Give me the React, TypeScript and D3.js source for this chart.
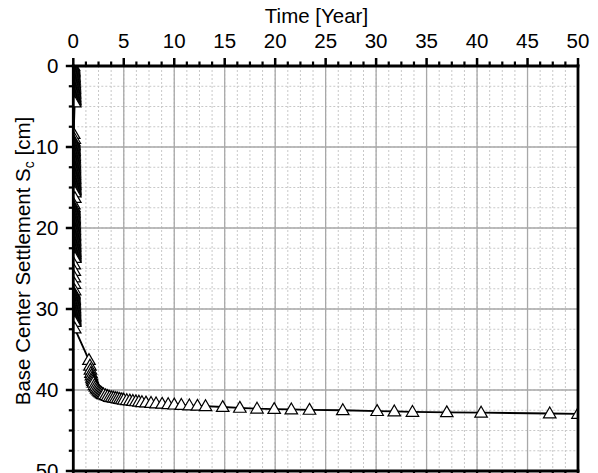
import React from "react";
import * as d3 from "d3";

const xTicks = [0, 5, 10, 15, 20, 25, 30, 35, 40, 45, 50];
const yTicks = [0, 10, 20, 30, 40, 50];

// Time [year]
const timeYears = [
  // construction stage 1
  0.02, 0.02, 0.03, 0.03, 0.04, 0.04, 0.05, 0.05, 0.06, 0.06, 0.07, 0.07, 0.08, 0.08, 0.09, 0.09,
  0.1, 0.1, 0.1, 0.11, 0.11, 0.11, 0.12, 0.12, 0.12, 0.13, 0.13, 0.13, 0.14, 0.14, 0.14,
  0.04, 0.1,
  // stage 2
  0.05, 0.05, 0.05, 0.06, 0.06, 0.06, 0.06, 0.07, 0.07, 0.07, 0.07, 0.08, 0.08, 0.08, 0.08,
  0.09, 0.09, 0.09, 0.09, 0.1, 0.1, 0.1, 0.1, 0.11, 0.11, 0.11, 0.11, 0.12, 0.12, 0.12, 0.12,
  0.13, 0.13, 0.13, 0.13, 0.14, 0.14, 0.14, 0.14, 0.15, 0.15, 0.15, 0.15,
  0.15, 0.06,
  // stage 3
  0.05, 0.05, 0.05, 0.06, 0.06, 0.06, 0.06, 0.07, 0.07, 0.07, 0.07, 0.08, 0.08, 0.08, 0.08,
  0.09, 0.09, 0.09, 0.09, 0.1, 0.1, 0.1, 0.1, 0.11, 0.11, 0.11, 0.11, 0.12, 0.12, 0.12, 0.12,
  0.13, 0.13, 0.13, 0.13, 0.14, 0.14, 0.14, 0.14, 0.15, 0.15, 0.15, 0.15,
  0.09, 0.1, 0.11, 0.12, 0.13,
  // stage 4
  0.05, 0.05, 0.06, 0.06, 0.07, 0.07, 0.08, 0.08, 0.09, 0.09, 0.1, 0.1, 0.1, 0.11, 0.11, 0.11,
  0.12, 0.12, 0.12, 0.13, 0.13, 0.13, 0.14, 0.14, 0.14,
  0.14,
  // consolidation
  1.55, 1.65, 1.7, 1.75, 1.8, 1.85, 1.9, 1.95, 2.0, 2.1, 2.2, 2.3, 2.4, 2.5, 2.6, 2.7, 2.8, 2.9,
  3.0, 3.2, 3.4, 3.6, 3.8, 4.0, 4.2, 4.4, 4.6, 4.8, 5.0, 5.3, 5.6, 5.9, 6.2, 6.5, 6.8, 7.2,
  7.7, 8.2, 8.8, 9.4, 10.0, 10.7, 11.5, 12.3, 13.1, 14.8, 16.5, 18.2, 19.9, 21.6, 23.4, 26.7,
  30.1, 31.8, 33.6, 37.0, 40.4, 47.2, 50.0,
];

// Base center settlement Sc [cm]
const settlementCm = [
  0, 0.15, 0.3, 0.45, 0.6, 0.75, 0.9, 1.05, 1.2, 1.35, 1.5, 1.65, 1.8, 1.95, 2.1, 2.25,
  2.4, 2.55, 2.7, 2.85, 3.0, 3.15, 3.3, 3.45, 3.6, 3.75, 3.9, 4.05, 4.2, 4.35, 4.5,
  8.4, 9.0,
  9.3, 9.45, 9.6, 9.75, 9.9, 10.05, 10.2, 10.35, 10.5, 10.65, 10.8, 10.95, 11.1, 11.25, 11.4,
  11.55, 11.7, 11.85, 12.0, 12.15, 12.3, 12.45, 12.6, 12.75, 12.9, 13.05, 13.2, 13.35, 13.5, 13.65,
  13.8, 13.95, 14.1, 14.25, 14.4, 14.55, 14.7, 14.85, 15.0, 15.15, 15.3, 15.45, 15.6,
  16.3, 17.1,
  17.4, 17.55, 17.7, 17.85, 18.0, 18.15, 18.3, 18.45, 18.6, 18.75, 18.9, 19.05, 19.2, 19.35, 19.5,
  19.65, 19.8, 19.95, 20.1, 20.25, 20.4, 20.55, 20.7, 20.85, 21.0, 21.15, 21.3, 21.45, 21.6, 21.75,
  21.9, 22.05, 22.2, 22.35, 22.5, 22.65, 22.8, 22.95, 23.1, 23.25, 23.4, 23.55, 23.7,
  24.5, 25.3, 26.1, 26.9, 27.7,
  28.0, 28.15, 28.3, 28.45, 28.6, 28.75, 28.9, 29.05, 29.2, 29.35, 29.5, 29.65, 29.8, 29.95, 30.1, 30.25,
  30.4, 30.55, 30.7, 30.85, 31.0, 31.15, 31.3, 31.45, 31.6,
  32.4,
  36.3, 37.0, 37.5, 37.9, 38.2, 38.5, 38.7, 38.9, 39.1, 39.4, 39.6, 39.8, 39.95, 40.1, 40.2, 40.3, 40.4, 40.5,
  40.55, 40.65, 40.75, 40.85, 40.9, 40.95, 41.0, 41.05, 41.1, 41.15, 41.2, 41.25, 41.3, 41.35, 41.4, 41.45, 41.5, 41.55,
  41.6, 41.65, 41.7, 41.75, 41.8, 41.85, 41.9, 41.95, 42.0, 42.1, 42.2, 42.3, 42.35, 42.4, 42.45, 42.5,
  42.6, 42.65, 42.7, 42.75, 42.8, 42.9, 42.95,
];

const W = 598;
const H = 473;
const L = 73.3;
const R = 578;
const T = 66;
const B = 471;
const FONT = "'Liberation Sans', Arial, sans-serif";

export default function App() {
  const x = d3.scaleLinear().domain([0, 50]).range([L, R]);
  const y = d3.scaleLinear().domain([0, 50]).range([T, B]);

  const xMinor = d3.range(0, 50.001, 1.25);
  const yMinor = d3.range(0, 50.001, 2.5);

  const n = Math.min(timeYears.length, settlementCm.length);
  const pts = timeYears.slice(0, n).map((t, i) => [t, settlementCm[i]] as [number, number]);
  const line = d3
    .line<[number, number]>()
    .x((d) => x(d[0]))
    .y((d) => y(d[1]));

  const tri = d3.symbol().type(d3.symbolTriangle).size(68)();

  return (
    <svg
      width={W}
      height={H}
      style={{ position: "fixed", left: 0, top: 0, background: "#fff" }}
      fontFamily={FONT}
    >
      <defs>
        <clipPath id="plot">
          <rect x={L} y={T} width={R - L} height={B - T} />
        </clipPath>
      </defs>
      <rect x={0} y={0} width={W} height={H} fill="#fff" />
      {/* minor grid */}
      {xMinor.map((v, i) => (
        <line key={"xm" + i} x1={x(v)} x2={x(v)} y1={T} y2={B} stroke="#c8c8c8" strokeWidth={1} strokeDasharray="2,2" />
      ))}
      {yMinor.map((v, i) => (
        <line key={"ym" + i} x1={L} x2={R} y1={y(v)} y2={y(v)} stroke="#c8c8c8" strokeWidth={1} strokeDasharray="2,2" />
      ))}
      {/* major grid */}
      {xTicks.map((v) => (
        <line key={"xg" + v} x1={x(v)} x2={x(v)} y1={T} y2={B} stroke="#a8a8a8" strokeWidth={1.3} />
      ))}
      {yTicks.map((v) => (
        <line key={"yg" + v} x1={L} x2={R} y1={y(v)} y2={y(v)} stroke="#a8a8a8" strokeWidth={1.3} />
      ))}
      {/* data */}
      <g clipPath="url(#plot)">
        <path d={line(pts) || ""} fill="none" stroke="#000" strokeWidth={1.8} />
        {pts.map((d, i) => (
          <path
            key={i}
            d={tri || ""}
            transform={`translate(${x(d[0])},${y(d[1]) + 0.8})`}
            fill="#fff"
            stroke="#000"
            strokeWidth={1.2}
          />
        ))}
      </g>
      {/* frame */}
      <line x1={L} x2={L} y1={T - 1.5} y2={B + 1.5} stroke="#000" strokeWidth={2.8} />
      <line x1={R} x2={R} y1={T - 1.5} y2={B + 1.5} stroke="#000" strokeWidth={2.8} />
      <line x1={L - 1.4} x2={R + 1.4} y1={T} y2={T} stroke="#000" strokeWidth={2.8} />
      <line x1={L - 1.4} x2={R + 1.4} y1={B} y2={B} stroke="#000" strokeWidth={2.8} />
      {/* top ticks */}
      {xMinor.map((v, i) => {
        const major = i % 4 === 0;
        return (
          <line key={"xt" + i} x1={x(v)} x2={x(v)} y1={T} y2={T - (major ? 8 : 4.5)} stroke="#000" strokeWidth={major ? 2.5 : 2.2} />
        );
      })}
      {/* left ticks */}
      {yMinor.map((v, i) => {
        const major = i % 4 === 0;
        return (
          <line key={"yt" + i} x1={L} x2={L - (major ? 7.5 : 4.5)} y1={y(v)} y2={y(v)} stroke="#000" strokeWidth={major ? 2.5 : 2.2} />
        );
      })}
      {/* bottom ticks */}
      {xMinor.map((v, i) => {
        const major = i % 4 === 0;
        return (
          <line key={"xb" + i} x1={x(v)} x2={x(v)} y1={B} y2={B + (major ? 8 : 4.5)} stroke="#000" strokeWidth={2.2} />
        );
      })}
      {/* labels */}
      {xTicks.map((v) => (
        <text key={"xl" + v} x={x(v)} y={48} textAnchor="middle" fontSize={20.5} fill="#000">
          {v}
        </text>
      ))}
      {yTicks.map((v) => (
        <text key={"yl" + v} x={58.5} y={y(v) + 7.2} textAnchor="end" fontSize={20.5} fill="#000">
          {v}
        </text>
      ))}
      <text x={316.5} y={23} textAnchor="middle" fontSize={20.5} fill="#000">
        Time [Year]
      </text>
      <text transform="translate(30,261) rotate(-90)" textAnchor="middle" fontSize={20.5} fill="#000">
        Base Center Settlement S
        <tspan fontSize={14} dy={4}>c</tspan>
        <tspan dy={-4}> [cm]</tspan>
      </text>
    </svg>
  );
}
